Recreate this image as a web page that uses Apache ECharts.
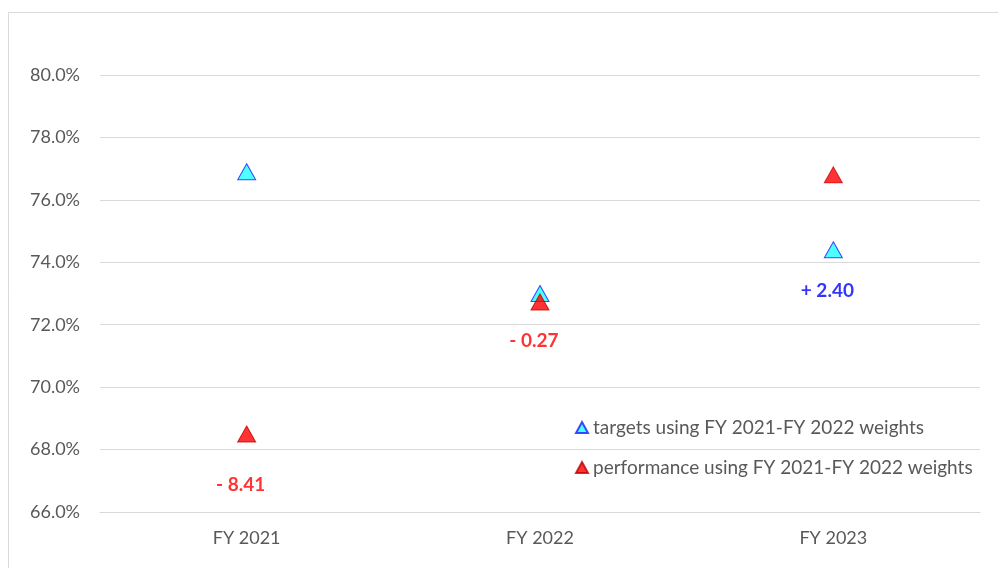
<!DOCTYPE html>
<html>
<head>
<meta charset="utf-8">
<script src="https://cdn.jsdelivr.net/npm/echarts@6/dist/echarts.min.js"></script>
<style>
  html, body { margin: 0; padding: 0; background: #fff; }
  #chart { width: 998px; height: 568px; }
</style>
</head>
<body>
<div id="chart"></div>
<script>
// chart values
const categories = ['FY 2021', 'FY 2022', 'FY 2023'];
const targets = [76.9, 73.0, 74.4];
const performance = [68.5, 72.73, 76.8];
const diffLabels = ['- 8.41', '- 0.27', '+ 2.40'];
const diffOnSeries = ['performance', 'performance', 'targets'];
const tickMin = 66, tickMax = 80, tickStep = 2;

const chart = echarts.init(document.getElementById('chart'));
const font = 'Lato, "Liberation Sans", sans-serif';

function withLabels(values, seriesKey, color, distances) {
  return values.map((v, i) => {
    if (diffOnSeries[i] !== seriesKey) return v;
    return {
      value: v,
      label: {
        show: true,
        position: 'bottom',
        distance: distances[i],
        formatter: diffLabels[i],
        color: color,
        fontWeight: 'bold',
        fontSize: 19,
        fontFamily: font,
        offset: [-6, 0]
      }
    };
  });
}

chart.setOption({
  animation: false,
  graphic: [{
    type: 'rect',
    shape: { x: 8.5, y: 12.5, width: 1000, height: 600 },
    style: { fill: 'none', stroke: '#d9d9d9', lineWidth: 1 }
  }],
  grid: { left: 100, right: 18, top: 75, bottom: 56 },
  legend: {
    orient: 'vertical',
    left: 570,
    top: 413,
    itemGap: 21,
    itemWidth: 12,
    itemHeight: 11,
    textStyle: { color: '#595959', fontSize: 19, fontFamily: font },
    data: [
      { name: 'targets using FY 2021-FY 2022 weights', icon: 'triangle' },
      { name: 'performance using FY 2021-FY 2022 weights', icon: 'triangle' }
    ]
  },
  xAxis: {
    type: 'category',
    data: categories,
    axisLine: { lineStyle: { color: '#d9d9d9' } },
    axisTick: { show: false },
    axisLabel: { color: '#595959', fontSize: 18, fontFamily: font, margin: 17 }
  },
  yAxis: {
    type: 'value',
    min: tickMin,
    max: tickMax,
    interval: tickStep,
    axisLine: { show: false },
    axisTick: { show: false },
    splitLine: { lineStyle: { color: '#d9d9d9' } },
    axisLabel: {
      color: '#595959', fontSize: 18, fontFamily: font, margin: 20,
      formatter: v => v.toFixed(1) + '%'
    }
  },
  series: [
    {
      name: 'targets using FY 2021-FY 2022 weights',
      type: 'scatter',
      symbol: 'triangle',
      symbolSize: [18, 16],
      itemStyle: { color: '#22ffff', borderColor: '#1a1aff', borderWidth: 1 },
      data: withLabels(targets, 'targets', '#0000ff', [0, 0, 23])
    },
    {
      name: 'performance using FY 2021-FY 2022 weights',
      type: 'scatter',
      symbol: 'triangle',
      symbolSize: [18, 16],
      z: 3,
      itemStyle: { color: '#ff0000', borderColor: '#c00000', borderWidth: 1 },
      data: withLabels(performance, 'performance', '#ff0000', [33, 21, 0])
    }
  ]
});
</script>
</body>
</html>
